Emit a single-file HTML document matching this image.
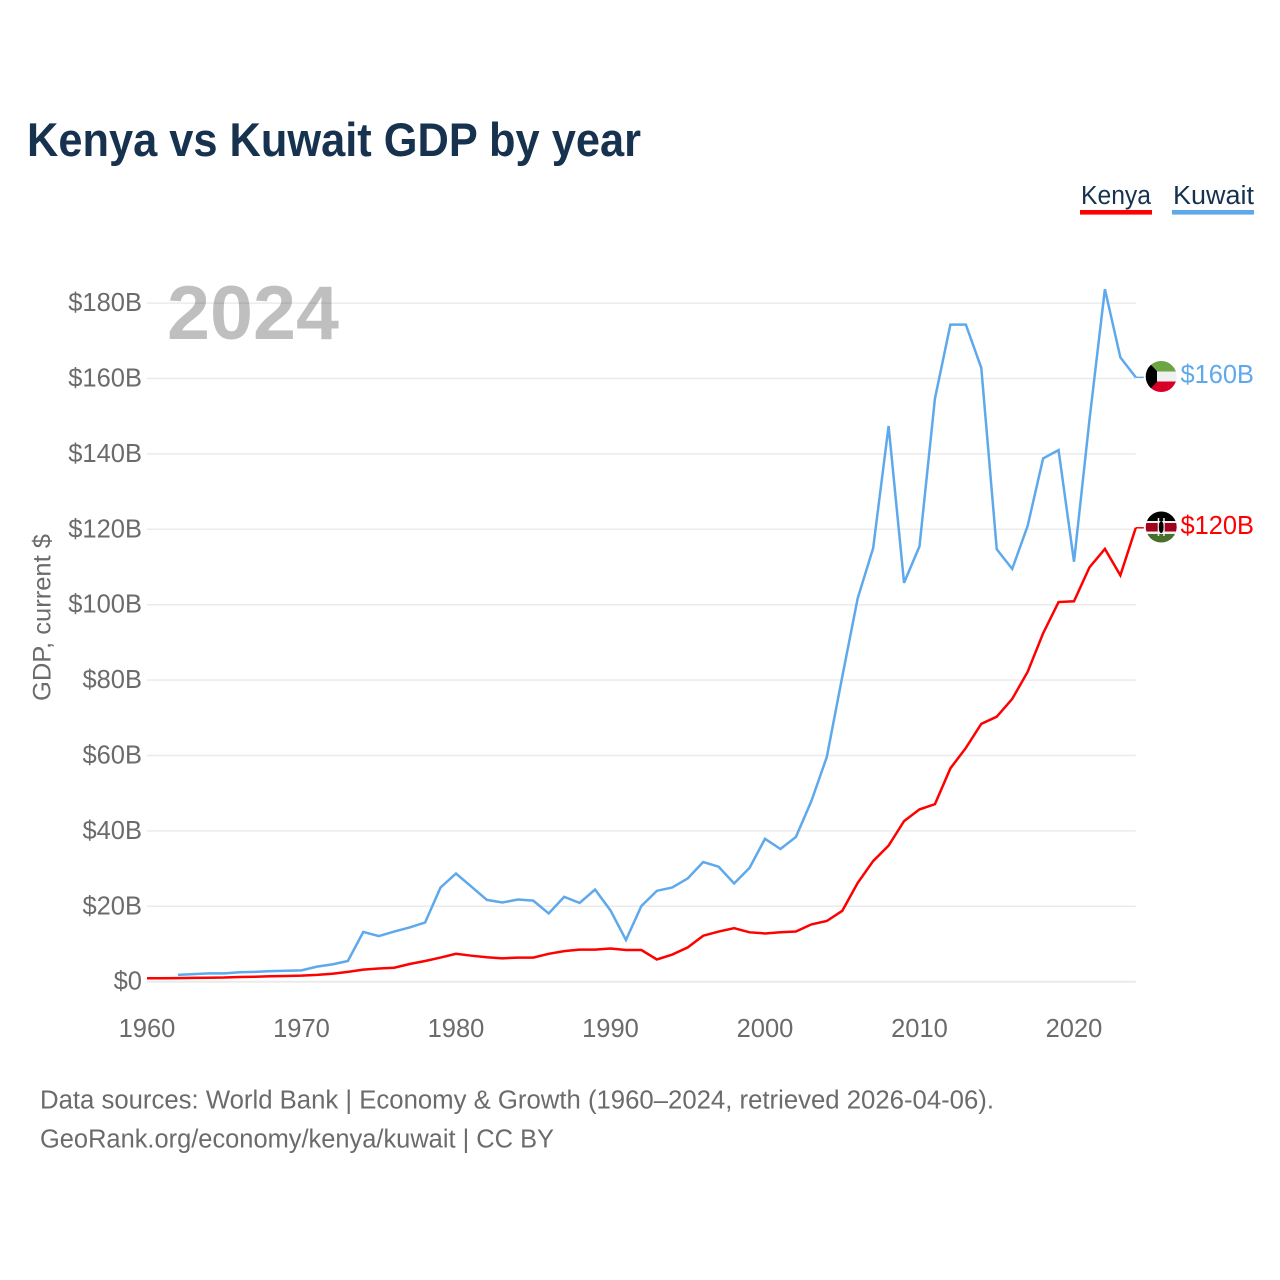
<!DOCTYPE html>
<html lang="en">
<head>
<meta charset="utf-8">
<title>Kenya vs Kuwait GDP by year</title>
<style>
html,body{margin:0;padding:0;background:#fff;}
svg{display:block;font-family:"Liberation Sans",sans-serif;}
</style>
</head>
<body>
<svg id="chart" width="1280" height="1280" viewBox="0 0 1280 1280" xmlns="http://www.w3.org/2000/svg">
  <defs>
    <clipPath id="flag-clip-kw"><circle cx="1161.2" cy="376.5" r="15.5"/></clipPath>
    <clipPath id="flag-clip-ke"><circle cx="1161.2" cy="527" r="15.5"/></clipPath>
  </defs>
  <rect width="1280" height="1280" fill="#fff"/>
  <text x="27" y="156" font-size="47" font-weight="700" fill="#17324f" textLength="614" lengthAdjust="spacingAndGlyphs">Kenya vs Kuwait GDP by year</text>

  <g id="grid"></g>
  <text x="167" y="339" font-size="76" font-weight="700" fill="#000" fill-opacity="0.25" textLength="172" lengthAdjust="spacingAndGlyphs">2024</text>
  <g id="y-ticks"></g>
  <g id="x-ticks"></g>
  <text transform="translate(50.5 701) rotate(-90)" font-size="25" fill="#6b6b6b" textLength="167" lengthAdjust="spacingAndGlyphs">GDP, current $</text>
  <g id="series"></g>

  <g>
    <text x="1081" y="204" font-size="25.5" fill="#17324f" textLength="70" lengthAdjust="spacingAndGlyphs">Kenya</text>
    <rect x="1080" y="210" width="72" height="4.6" fill="#ff0000"/>
  </g>
  <g>
    <text x="1173" y="204" font-size="25.5" fill="#17324f" textLength="81" lengthAdjust="spacingAndGlyphs">Kuwait</text>
    <rect x="1172" y="210" width="82" height="4.6" fill="#5ea8ec"/>
  </g>

  <g clip-path="url(#flag-clip-kw)">
    <rect x="1145" y="360" width="33" height="12" fill="#6da544"/>
    <rect x="1145" y="371.5" width="33" height="10.5" fill="#f0f0f0"/>
    <rect x="1145" y="381.5" width="33" height="12" fill="#d80027"/>
    <polygon points="1145,360 1148,361.5 1157,371.3 1157,381.7 1148,391.5 1145,393" fill="#000"/>
  </g>
  <g clip-path="url(#flag-clip-ke)">
    <rect x="1145" y="511" width="33" height="11" fill="#000"/>
    <rect x="1145" y="521" width="33" height="2.6" fill="#f0f0f0"/>
    <rect x="1145" y="523" width="33" height="9.5" fill="#a2001d"/>
    <rect x="1145" y="531.5" width="33" height="2.6" fill="#f0f0f0"/>
    <rect x="1145" y="534" width="33" height="10" fill="#496e2d"/>
    <rect x="1157.7" y="518" width="1.5" height="18" fill="#f0f0f0"/>
    <rect x="1163.2" y="518" width="1.5" height="18" fill="#f0f0f0"/>
    <ellipse cx="1161.2" cy="527" rx="2.4" ry="6" fill="#000"/>
  </g>

  <text x="1180.5" y="383" font-size="25.5" fill="#5ea8ec" textLength="73.5" lengthAdjust="spacingAndGlyphs">$160B</text>
  <text x="1180.5" y="534" font-size="25.5" fill="#ff0000" textLength="73.5" lengthAdjust="spacingAndGlyphs">$120B</text>

  <text x="40" y="1108.5" font-size="25.5" fill="#6b6b6b" textLength="954" lengthAdjust="spacingAndGlyphs">Data sources: World Bank | Economy &amp; Growth (1960–2024, retrieved 2026-04-06).</text>
  <text x="40" y="1147.5" font-size="25.5" fill="#6b6b6b" textLength="514" lengthAdjust="spacingAndGlyphs">GeoRank.org/economy/kenya/kuwait | CC BY</text>
</svg>
<script>
var yTickValues = [0, 20, 40, 60, 80, 100, 120, 140, 160, 180];
var xTickYears = [1960, 1970, 1980, 1990, 2000, 2010, 2020];
var kenyaStartYear = 1960;
var kenyaGdp = [0.9, 0.9, 0.95, 1.0, 1.05, 1.1, 1.25, 1.3, 1.45, 1.5,
  1.6, 1.8, 2.1, 2.6, 3.2, 3.5, 3.7, 4.7, 5.5, 6.4,
  7.4, 6.9, 6.5, 6.2, 6.4, 6.4, 7.4, 8.1, 8.5, 8.5,
  8.8, 8.4, 8.4, 5.9, 7.2, 9.1, 12.2, 13.3, 14.2, 13.1,
  12.8, 13.1, 13.3, 15.2, 16.1, 18.8, 26.2, 32.0, 36.1, 42.6,
  45.7, 47.1, 56.6, 62.0, 68.4, 70.3, 75.0, 82.2, 92.4, 100.7,
  100.9, 109.9, 114.8, 107.8, 120.4];
var kuwaitStartYear = 1962;
var kuwaitGdp = [1.8, 2.0, 2.2, 2.2, 2.5, 2.6, 2.8, 2.9,
  3.0, 4.0, 4.6, 5.5, 13.2, 12.1, 13.3, 14.4, 15.7, 25.0,
  28.7, 25.2, 21.7, 21.0, 21.8, 21.5, 18.1, 22.5, 20.9, 24.45,
  18.9, 11.06, 20.1, 24.1, 25.0, 27.4, 31.75, 30.5, 26.05, 30.2,
  37.9, 35.2, 38.4, 47.9, 59.6, 80.9, 101.7, 115.0, 147.4, 105.8,
  115.5, 154.7, 174.3, 174.3, 162.8, 114.7, 109.5, 120.9, 138.8, 141.0,
  111.4, 149.0, 183.7, 165.6, 160.3];

var NS = 'http://www.w3.org/2000/svg';
function xScale(year) { return 147 + (year - 1960) * 15.45; }
function yScale(value) { return 981.7 - value * 3.77; }
function xMax() { return xScale(kenyaStartYear + kenyaGdp.length - 1); }

var grid = document.getElementById('grid');
yTickValues.forEach(function (v) {
  var line = document.createElementNS(NS, 'line');
  
  
  line.setAttribute('x1', 147);
  line.setAttribute('x2', xMax());
  line.setAttribute('y1', yScale(v));
  line.setAttribute('y2', yScale(v));
  line.setAttribute('stroke', '#ebebeb');
  line.setAttribute('stroke-width', v === 0 ? 2 : 1.5);
  grid.appendChild(line);
});

var yTicks = document.getElementById('y-ticks');
yTickValues.forEach(function (v) {
  var t = document.createElementNS(NS, 'text');
  
  
  t.setAttribute('x', 142);
  t.setAttribute('y', yScale(v) + 8);
  t.setAttribute('text-anchor', 'end');
  t.setAttribute('font-size', '25.5');
  t.setAttribute('fill', '#6b6b6b');
  t.textContent = v === 0 ? '$0' : '$' + v + 'B';
  yTicks.appendChild(t);
});

var xTicks = document.getElementById('x-ticks');
xTickYears.forEach(function (y) {
  var t = document.createElementNS(NS, 'text');
  
  
  t.setAttribute('x', xScale(y));
  t.setAttribute('y', 1037);
  t.setAttribute('text-anchor', 'middle');
  t.setAttribute('font-size', '25.5');
  t.setAttribute('fill', '#6b6b6b');
  t.textContent = y;
  xTicks.appendChild(t);
});

function seriesPoints(startYear, values) {
  return values.map(function (v, i) {
    return xScale(startYear + i).toFixed(2) + ',' + yScale(v).toFixed(2);
  });
}

var seriesGroup = document.getElementById('series');

var kuwaitLine = document.createElementNS(NS, 'polyline');


kuwaitLine.setAttribute('points', seriesPoints(kuwaitStartYear, kuwaitGdp).join(' '));
kuwaitLine.setAttribute('fill', 'none');
kuwaitLine.setAttribute('stroke', '#5ea8ec');
kuwaitLine.setAttribute('stroke-width', '2.5');
kuwaitLine.setAttribute('stroke-linejoin', 'miter');
seriesGroup.appendChild(kuwaitLine);

var kenyaLine = document.createElementNS(NS, 'polyline');


kenyaLine.setAttribute('points', seriesPoints(kenyaStartYear, kenyaGdp).join(' '));
kenyaLine.setAttribute('fill', 'none');
kenyaLine.setAttribute('stroke', '#ff0000');
kenyaLine.setAttribute('stroke-width', '2.5');
kenyaLine.setAttribute('stroke-linejoin', 'miter');
seriesGroup.appendChild(kenyaLine);

var kuwaitLeader = document.createElementNS(NS, 'line');


kuwaitLeader.setAttribute('x1', xMax());
kuwaitLeader.setAttribute('x2', xMax() + 8);
kuwaitLeader.setAttribute('y1', yScale(kuwaitGdp[kuwaitGdp.length - 1]));
kuwaitLeader.setAttribute('y2', yScale(kuwaitGdp[kuwaitGdp.length - 1]));
kuwaitLeader.setAttribute('stroke', '#5ea8ec');
kuwaitLeader.setAttribute('stroke-width', '1.5');
seriesGroup.appendChild(kuwaitLeader);

var kenyaLeader = document.createElementNS(NS, 'line');


kenyaLeader.setAttribute('x1', xMax());
kenyaLeader.setAttribute('x2', xMax() + 8);
kenyaLeader.setAttribute('y1', yScale(kenyaGdp[kenyaGdp.length - 1]));
kenyaLeader.setAttribute('y2', yScale(kenyaGdp[kenyaGdp.length - 1]));
kenyaLeader.setAttribute('stroke', '#ff0000');
kenyaLeader.setAttribute('stroke-width', '1.5');
seriesGroup.appendChild(kenyaLeader);
</script>
</body>
</html>
